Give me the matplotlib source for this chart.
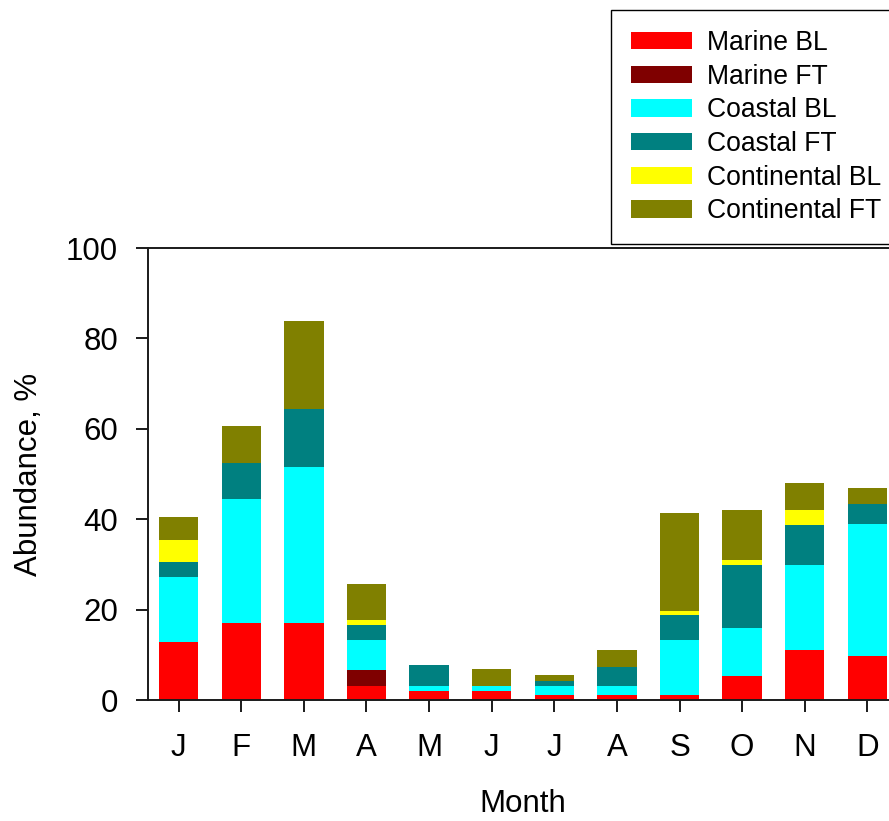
import matplotlib
matplotlib.use('Agg')
import matplotlib.pyplot as plt
import numpy as np

months = ['J', 'F', 'M', 'A', 'M', 'J', 'J', 'A', 'S', 'O', 'N', 'D']
series_names = ['Marine BL', 'Marine FT', 'Coastal BL', 'Coastal FT',
                'Continental BL', 'Continental FT']
marine_bl = [12.8, 17.0, 17.0, 3.2, 2.1, 2.1, 1.0, 1.0, 1.0, 5.2, 11.0, 9.7]
marine_ft = [0.0, 0.0, 0.0, 3.4, 0.0, 0.0, 0.0, 0.0, 0.0, 0.0, 0.0, 0.0]
coastal_bl = [14.5, 27.5, 34.5, 6.7, 1.1, 1.1, 2.2, 2.2, 12.2, 10.7, 18.8, 29.3]
coastal_ft = [3.2, 7.9, 12.9, 3.2, 4.5, 0.0, 1.0, 4.2, 5.6, 14.0, 9.0, 4.4]
continental_bl = [4.9, 0.0, 0.0, 1.1, 0.0, 0.0, 0.0, 0.0, 1.0, 1.1, 3.2, 0.0]
continental_ft = [5.0, 8.2, 19.5, 8.1, 0.0, 3.7, 1.3, 3.6, 21.5, 11.1, 5.9, 3.4]
y_ticks = [0, 20, 40, 60, 80, 100]

series = [marine_bl, marine_ft, coastal_bl, coastal_ft, continental_bl, continental_ft]
colors = ['#FF0000', '#7F0000', '#00FFFF', '#008080', '#FFFF00', '#808000']

plt.rcParams['font.family'] = ['Liberation Sans', 'DejaVu Sans']

W, H = 889, 821
fig = plt.figure(figsize=(W / 100, H / 100), dpi=100)
ax = fig.add_axes([148 / W, 121 / H, 750 / W, 452 / H])

x = np.arange(len(months))
bottom = np.zeros(len(months))
for name, vals, c in zip(series_names, series, colors):
    vals = np.array(vals)
    ax.bar(x, vals, 0.63, bottom=bottom, color=c, label=name, linewidth=0)
    bottom += vals

ax.set_xlim(-0.49, 11.49)
ax.set_ylim(0, 100)
ax.set_xticks(x)
ax.set_xticklabels(months)
ax.set_yticks(y_ticks)

for s in ax.spines.values():
    s.set_linewidth(1.4)
    s.set_color('#1a1a1a')

ax.tick_params(axis='both', direction='out', length=8.6, width=1.4,
               color='#1a1a1a', labelsize=22.5)
ax.tick_params(axis='x', pad=15)
ax.tick_params(axis='y', pad=13)

ax.set_xlabel('Month', fontsize=22.5, labelpad=19)
ax.set_ylabel('Abundance, %', fontsize=22.5, labelpad=16)

leg = fig.legend(loc='upper left', bbox_to_anchor=(610.7 / W, 1 - 10 / H),
                 fontsize=19.1, frameon=True, fancybox=False, framealpha=1,
                 edgecolor='black', handlelength=2.3, handleheight=0.62,
                 handletextpad=0.57, borderpad=0.75, labelspacing=0.29,
                 borderaxespad=0)
leg.get_frame().set_linewidth(1.0)

fig.savefig('out.png', dpi=100)
